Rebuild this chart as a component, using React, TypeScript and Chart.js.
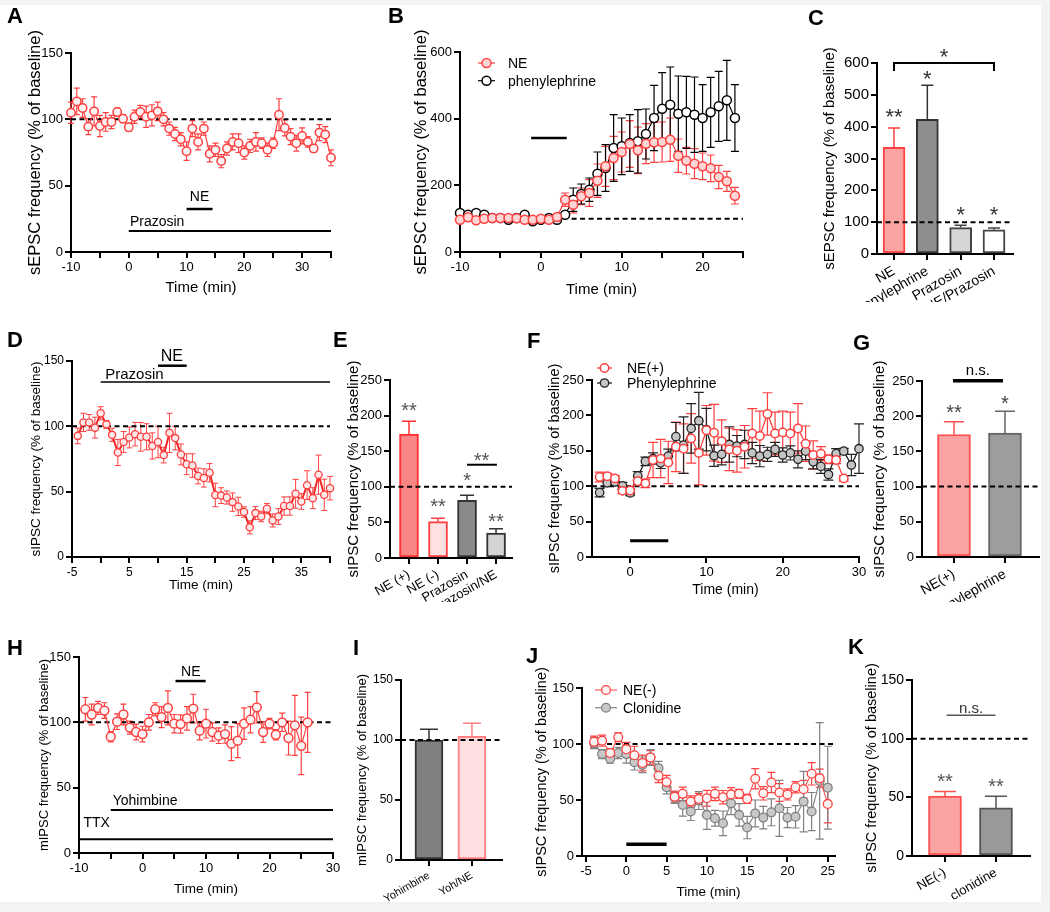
import React, { useEffect, useRef } from 'react';
import { Chart, registerables } from 'chart.js';

Chart.register(...registerables);

const FONT = "'Liberation Sans', Arial, Helvetica, sans-serif";
Chart.defaults.font.family = FONT;

// ======================= DATA =======================
// Panel A – sEPSC, prazosin then NE
const timeA = [-10,-9,-8,-7,-6,-5,-4,-3,-2,-1,0,1,2,3,4,5,6,7,8,9,10,11,12,13,14,15,16,17,18,19,20,21,22,23,24,25,26,27,28,29,30,31,32,33,34,35];
const valA = [105,113.5,108.5,94.5,106,95,98,98,105.5,100.5,94,102,105.5,102,103,106,100,93,89,85,76,93,83,93,74,77,68.5,78,83,82,75,80,83,82,77,82,103.5,93.5,87,82,87.5,83,78,90,88.5,71];
const semA = [8,10,7,6,11,8,7,5,3,3,3,5,5,8,8,7,5,5,5,5,7,6,6,5,6,5,5,5,6,7,5,5,7,4,5,4,12,6,6,6,6,4,3,6,6,6];
const ticksAX = [-10,-5,0,5,10,15,20,25,30,35];
const labelsAX = [-10,0,10,20,30];
const ticksAY = [0,50,100,150];
const drugsA = [
  { label: 'Prazosin', x0: 0, x1: 35, y: 15.8, tx: 0.2, ty: 19.6 },
  { label: 'NE', x0: 10, x1: 14.5, y: 32.4, tx: 12.25, ty: 38.4 },
];

// Panel B – NE vs phenylephrine
const timeB = [-10,-9,-8,-7,-6,-5,-4,-3,-2,-1,0,1,2,3,4,5,6,7,8,9,10,11,12,13,14,15,16,17,18,19,20,21,22,23,24];
const neB = [97,104,95,100,102,102,102,101,97,97,100,97,105,157,142,167,177,214,257,282,300,324,305,325,329,330,337,289,274,265,257,251,225,212,169];
const neSemB = [5,5,5,5,5,5,5,5,5,5,5,5,8,20,25,25,40,50,60,65,60,70,70,60,60,60,65,50,40,45,40,40,35,30,25];
const pheB = [117,112,117,112,102,102,97,102,112,92,97,102,97,112,157,174,187,235,252,312,317,327,332,354,402,430,442,415,419,412,402,419,437,455,402];
const pheSemB = [5,5,5,5,5,5,5,5,5,5,5,5,5,8,35,30,35,65,70,100,85,85,95,75,98,108,113,113,108,113,100,105,105,120,100];
const ticksBX = [-10,-5,0,5,10,15,20,25];
const labelsBX = [-10,0,10,20];
const ticksBY = [0,200,400,600];
const stimB = [{ x0: -1.2, x1: 3.2, y: 342 }];

// Panel C – summary sEPSC
const catC = ['NE','Phenylephrine','Prazosin','NE/Prazosin'];
const valC = [335,423,83,76];
const semC = [61,107,7,6];
const ticksCY = [0,100,200,300,400,500,600];
const starsC = [
  { x: 1, y: 444, text: '**' }, { x: 2, y: 562, text: '*' },
  { x: 3, y: 136, text: '*' }, { x: 4, y: 136, text: '*' }, { x: 2.5, y: 632, text: '*' },
];
const bracketC = [{ x0: 1, x1: 4, y: 600, drop: 25 }];

// Panel D – sIPSC, prazosin then NE
const timeD = [-4,-3,-2,-1,0,1,2,3,4,5,6,7,8,9,10,11,12,13,14,15,16,17,18,19,20,21,22,23,24,25,26,27,28,29,30,31,32,33,34,35,36,37,38,39,40];
const valD = [92.7,103,103,99,110,101.5,93.5,80,88,91.5,94,92,92,85,88,78,95,91,78.5,71,70,62,60.5,64.5,47.5,47,45.5,42,38.7,34.4,22.7,33.6,31,37,28,31,39,39,48.4,42.5,55,45,63,47.6,52.7];
const semD = [6,7,6,8,5,3,5,10,8,8,9,11,10,10,12,6,15,9,8,8,9,6,7,7,9,6,5,7,7,4,5,5,4,4,5,6,7,7,11,6,11,8,15,12,9];
const ticksDX = [-5,0,5,10,15,20,25,30,35,40];
const labelsDX = [-5,5,15,25,35];
const ticksDY = [0,50,100,150];
const drugsD = [
  { label: 'Prazosin', x0: 0, x1: 40, y: 134, tx: 0.8, ty: 136.4 },
  { label: 'NE', x0: 10, x1: 15, y: 146.4, tx: 12.4, ty: 149.8 },
];

// Panel E – summary sIPSC
const catE = ['NE (+)','NE (-)','Prazosin','Prazosin/NE'];
const valE = [174,51,81,35];
const semE = [18,5,7,6];
const ticksEY = [0,50,100,150,200,250];
const starsE = [
  { x: 1, y: 212, text: '**' }, { x: 2, y: 77, text: '**' }, { x: 3, y: 114, text: '*' },
  { x: 4, y: 56, text: '**' }, { x: 3.5, y: 142, text: '**' },
];
const barE = [{ x0: 3, x1: 4.03, y: 131 }];

// Panel F – NE(+) vs phenylephrine sIPSC
const timeF1 = [-4,-3,-2,-1,0,1,2,3,4,5,6,7,8,9,10,11,12,13,14,15,16,17,18,19,20,21,22,23,24,25,26,27,28];
const neF = [113,114,111,93.4,94,107,104,137,139,133.5,155.7,153,167.5,147,179,175.5,163.7,152,150,155.7,174.5,171,202,174.5,176,174.5,181.6,160,144,146,138,137,111];
const neSemF = [7,4,4,4,3,6,6,25,27,30,35,35,35,45,35,40,30,30,30,30,35,35,30,30,30,30,35,25,20,10,6,5,4];
const timeF2 = [-4,-3,-2,-1,0,1,2,3,4,5,6,7,8,9,10,11,12,13,14,15,16,17,18,19,20,21,22,23,24,25,26,27,28,29,30];
const pheF = [91,104.7,106,100.5,90.5,114.6,135,139,133,142.5,170,158,181.6,192.5,180,143,145,159,156.6,159,147,142.5,145,152,144,147,138,149.5,134.4,128,116.5,146,149.5,130,153];
const pheSemF = [6,5,5,5,4,6,6,8,8,10,20,40,35,40,30,15,15,25,15,20,15,15,10,10,10,10,12,12,10,10,8,7,4,15,35];
const ticksFX = [0,10,20,30];
const ticksFY = [0,50,100,150,200,250];
const stimF = [{ x0: 0, x1: 5, y: 23 }];

// Panel G – summary
const catG = ['NE(+)','phenylephrine'];
const valG = [174,176];
const semG = [18,31];
const ticksGY = [0,50,100,150,200,250];
const starsG = [{ x: 1, y: 210, text: '**' }, { x: 2, y: 223, text: '*' }];
const nsG = [{ x0: 0.98, x1: 1.96, y: 250.4, tx: 1.47, ty: 264, text: 'n.s.' }];

// Panel H – mIPSC with TTX + yohimbine
const timeH = [-9,-8,-7,-6,-5,-4,-3,-2,-1,0,1,2,3,4,5,6,7,8,9,10,11,12,13,14,15,16,17,18,19,20,21,22,23,24,25,26];
const valH = [110,106,111,109,89,100.5,106,96,92.6,91,100,110,104,111,99,98.7,103,110.5,93.6,99,92.6,89.8,91,83.7,86,99,102,111.5,92.6,99,90.5,100,88,97.7,82,100];
const semH = [9,8,5,6,4,6,8,5,6,6,6,5,8,13,7,7,9,11,7,11,7,6,7,13,13,12,10,12,8,4,4,7,13,23,22,23];
const ticksHX = [-10,-5,0,5,10,15,20,25,30];
const labelsHX = [-10,0,10,20,30];
const ticksHY = [0,50,100,150];
const drugsH = [
  { label: 'NE', x0: 5.2, x1: 9.95, y: 131.6, tx: 7.6, ty: 135.8 },
  { label: 'Yohimbine', x0: -5, x1: 30, y: 32.9, tx: -4.7, ty: 36.9 },
  { label: 'TTX', x0: -10, x1: 30, y: 10.5, tx: -9.3, ty: 20.1 },
];

// Panel I – summary mIPSC
const catI = ['Yohimbine','Yoh/NE'];
const valI = [100,103];
const semI = [9,11];
const ticksIY = [0,50,100,150];

// Panel J – NE(-) vs clonidine
const timeJ = [-4,-3,-2,-1,0,1,2,3,4,5,6,7,8,9,10,11,12,13,14,15,16,17,18,19,20,21,22,23,24,25];
const neJ = [102,103,92,106,95.4,90,83,88,71.6,66,53,55.5,48.6,51,51.6,55.5,52.5,55,55.5,51,69,56,65.6,56.7,55,61.4,59.6,73.4,69.5,46.5];
const neSemJ = [5,5,4,4,6,8,7,6,6,6,5,6,5,5,7,6,6,6,4,4,9,6,9,8,5,5,8,10,8,17];
const clJ = [100.8,91,86.8,92,91,83.8,81.4,88,78.4,61.4,52,45.6,39.7,49.5,36.7,33.7,29.2,47,36.7,25.4,38,34.3,39,42.6,34.3,35,48.6,39.7,67,61];
const clSemJ = [5,4,4,5,8,7,7,7,6,6,5,10,8,8,13,7,11,10,10,10,12,10,12,25,9,10,27,17,52,37];
const ticksJX = [-5,0,5,10,15,20,25];
const ticksJY = [0,50,100,150];
const stimJ = [{ x0: 0, x1: 5, y: 10.4 }];

// Panel K – summary
const catK = ['NE(-)','clonidine'];
const valK = [51,41];
const semK = [4,10];
const ticksKY = [0,50,100,150];
const starsK = [{ x: 1, y: 66.5, text: '**' }, { x: 2, y: 62, text: '**' }];
const nsK = [{ x0: 1.03, x1: 1.99, y: 120, tx: 1.51, ty: 125.5, text: 'n.s.' }];

// ======================= LAYOUT =======================
const GEO: any = {
  A: { cx: 0, cy: 0, cw: 345, ch: 300, L: 71, T: 53, R: 331, B: 252, yTitleX: 35, xTitleY: 288 },
  B: { cx: 405, cy: 0, cw: 345, ch: 300, L: 460, T: 52, R: 743, B: 252, yTitleX: 421, xTitleY: 290 },
  C: { cx: 815, cy: 0, cw: 226, ch: 302, L: 877, T: 63, R: 1013, B: 254, yTitleX: 830 },
  D: { cx: 0, cy: 300, cw: 345, ch: 300, L: 72, T: 361, R: 330, B: 557, yTitleX: 36, xTitleY: 585 },
  E: { cx: 340, cy: 300, cw: 185, ch: 302, L: 390, T: 380, R: 512, B: 558, yTitleX: 354 },
  F: { cx: 540, cy: 300, cw: 330, ch: 300, L: 592, T: 380, R: 859, B: 557, yTitleX: 555, xTitleY: 590 },
  G: { cx: 868, cy: 300, cw: 174, ch: 302, L: 922, T: 381, R: 1039, B: 557, yTitleX: 880 },
  H: { cx: 0, cy: 600, cw: 345, ch: 302, L: 79, T: 657, R: 333, B: 853, yTitleX: 44, xTitleY: 889 },
  I: { cx: 352, cy: 600, cw: 160, ch: 302, L: 401, T: 680, R: 502, B: 860, yTitleX: 362 },
  J: { cx: 532, cy: 600, cw: 310, ch: 302, L: 582, T: 688, R: 835, B: 856, yTitleX: 542, xTitleY: 892 },
  K: { cx: 860, cy: 600, cw: 182, ch: 302, L: 912, T: 680, R: 1030, B: 856, yTitleX: 872 },
};

const LETTERS = [
  { t: 'A', x: 7, y: 5 }, { t: 'B', x: 388, y: 5 }, { t: 'C', x: 808, y: 7 },
  { t: 'D', x: 7, y: 329 }, { t: 'E', x: 333, y: 329 }, { t: 'F', x: 527, y: 330 }, { t: 'G', x: 853, y: 332 },
  { t: 'H', x: 7, y: 637 }, { t: 'I', x: 353, y: 637 }, { t: 'J', x: 526, y: 645 }, { t: 'K', x: 848, y: 636 },
];

const RED = '#ff4040';
const PINKW = '#fff4f4';

// ======================= HELPERS =======================
const lab = (arr: number[]) => (v: number) => (arr.indexOf(v) >= 0 ? String(v) : '');

function mkScales(g: any, o: any) {
  const yLH = o.yTitleSize * 1.2;
  const xLH = (o.xTitleSize || 12) * 1.2;
  const fixPad = (s: any) => { s.paddingLeft = 0; s.paddingRight = 0; s.paddingTop = 0; s.paddingBottom = 0; };
  const grid = { display: true, offset: false, drawOnChartArea: false, drawTicks: true, tickLength: 6, color: '#000', lineWidth: 2 };
  return {
    x: {
      type: 'linear', min: o.xMin, max: o.xMax, offset: false,
      border: { display: true, color: '#000', width: 2 },
      grid,
      afterBuildTicks: (s: any) => { s.ticks = o.xTicks.map((v: number) => ({ value: v })); },
      ticks: {
        color: '#000', font: { family: FONT, size: o.xTickSize }, padding: o.xTickPad ?? 2, autoSkip: false,
        minRotation: o.rot || 0, maxRotation: o.rot || 0, callback: o.xLabel,
      },
      title: o.xTitle
        ? { display: true, text: o.xTitle, color: '#000', font: { family: FONT, size: o.xTitleSize }, padding: { top: 0, bottom: g.cy + g.ch - g.xTitleY - xLH / 2 } }
        : { display: false },
      afterFit: (s: any) => { s.height = g.cy + g.ch - g.B; fixPad(s); },
    },
    y: {
      type: 'linear', min: o.yMin, max: o.yMax,
      border: { display: true, color: '#000', width: 2 },
      grid,
      afterBuildTicks: (s: any) => { s.ticks = o.yTicks.map((v: number) => ({ value: v })); },
      ticks: { color: '#000', font: { family: FONT, size: o.yTickSize }, padding: 2, autoSkip: false, callback: (v: number) => String(v) },
      title: { display: true, text: o.yTitle, color: '#000', font: { family: FONT, size: o.yTitleSize }, padding: { top: g.yTitleX - g.cx - yLH / 2, bottom: 0 } },
      afterFit: (s: any) => { s.width = g.L - g.cx; fixPad(s); },
    },
  };
}

function mkOptions(g: any, scales: any) {
  return {
    responsive: false, animation: false, devicePixelRatio: 1, events: [],
    layout: { padding: { left: 0, top: g.T - g.cy, right: g.cx + g.cw - g.R, bottom: 0 } },
    plugins: { legend: { display: false }, tooltip: { enabled: false }, title: { display: false } },
    scales,
  };
}

function lineDS(label: string, xs: number[], ys: number[], errs: number[], st: any) {
  return {
    type: 'line', label,
    data: xs.map((x, i) => ({ x, y: ys[i] })),
    borderColor: st.line, borderWidth: st.lw, pointRadius: st.r, pointHoverRadius: st.r, pointBorderWidth: st.pbw,
    pointBackgroundColor: st.fill, pointBorderColor: st.edge, tension: 0, fill: false, clip: false,
    errors: errs, errColor: st.err, errBoth: true, cap: st.cap, errWidth: st.ew,
  };
}

function barDS(vals: number[], errs: number[], st: any) {
  return {
    type: 'bar', label: 'bars',
    data: vals.map((v, i) => ({ x: i + 1, y: v })),
    backgroundColor: st.fills, borderColor: st.edges, borderWidth: st.bw, borderSkipped: false, barThickness: st.thick,
    errors: errs, errColor: st.edges, errBoth: false, cap: st.cap, errWidth: st.ew, clip: false,
  };
}

const errPlugin = {
  id: 'errbars',
  beforeDatasetsDraw(chart: any) {
    const ctx = chart.ctx;
    chart.data.datasets.forEach((ds: any, di: number) => {
      if (!ds.errors) return;
      const meta = chart.getDatasetMeta(di);
      const ys = chart.scales[meta.yAxisID];
      ctx.save();
      meta.data.forEach((el: any, i: number) => {
        const raw = ds.data[i];
        const v = typeof raw === 'object' ? raw.y : raw;
        const e = ds.errors[i];
        const col = Array.isArray(ds.errColor) ? ds.errColor[i] : ds.errColor;
        const yTop = ys.getPixelForValue(v + e);
        const yBot = ds.errBoth ? ys.getPixelForValue(v - e) : ys.getPixelForValue(v);
        ctx.strokeStyle = col;
        ctx.lineWidth = ds.errWidth || 1.2;
        ctx.beginPath();
        ctx.moveTo(el.x, yTop); ctx.lineTo(el.x, yBot);
        ctx.moveTo(el.x - ds.cap, yTop); ctx.lineTo(el.x + ds.cap, yTop);
        if (ds.errBoth) { ctx.moveTo(el.x - ds.cap, yBot); ctx.lineTo(el.x + ds.cap, yBot); }
        ctx.stroke();
      });
      ctx.restore();
    });
  },
};

function makeAnnot(g: any, spec: any) {
  const drawRef = (chart: any) => {
    const { ctx, scales: { x, y } } = chart;
    (spec.ref || []).forEach((r: any) => {
      ctx.save();
      ctx.setLineDash([5, 3.5]);
      ctx.lineWidth = 2;
      ctx.strokeStyle = '#000';
      const py = y.getPixelForValue(r.y);
      ctx.beginPath();
      ctx.moveTo(x.getPixelForValue(r.x0 ?? x.min), py);
      ctx.lineTo(x.getPixelForValue(r.x1 ?? x.max), py);
      ctx.stroke();
      ctx.restore();
    });
  };
  return {
    id: 'annot',
    beforeDatasetsDraw(chart: any) { if (!spec.refTop) drawRef(chart); },
    afterDatasetsDraw(chart: any) {
      if (spec.refTop) drawRef(chart);
      const { ctx, scales: { x, y } } = chart;
      (spec.lines || []).forEach((l: any) => {
        ctx.save();
        ctx.strokeStyle = l.color || '#000';
        ctx.lineWidth = l.w || 2;
        const py = y.getPixelForValue(l.y);
        ctx.beginPath();
        ctx.moveTo(x.getPixelForValue(l.x0), py);
        ctx.lineTo(x.getPixelForValue(l.x1), py);
        ctx.stroke();
        ctx.restore();
      });
      (spec.brackets || []).forEach((b: any) => {
        ctx.save();
        ctx.strokeStyle = b.color || '#000';
        ctx.lineWidth = b.w || 2;
        const py = y.getPixelForValue(b.y);
        const pd = y.getPixelForValue(b.y - b.drop);
        const a = x.getPixelForValue(b.x0), c = x.getPixelForValue(b.x1);
        ctx.beginPath();
        ctx.moveTo(a, pd); ctx.lineTo(a, py); ctx.lineTo(c, py); ctx.lineTo(c, pd);
        ctx.stroke();
        ctx.restore();
      });
      (spec.texts || []).forEach((t: any) => {
        ctx.save();
        ctx.font = `${t.size}px ${FONT}`;
        ctx.fillStyle = t.color || '#000';
        ctx.textAlign = t.align || 'center';
        ctx.textBaseline = 'alphabetic';
        const px = x.getPixelForValue(t.x);
        let py = y.getPixelForValue(t.y);
        if (!t.base) {
          const m = ctx.measureText(t.text);
          py = py + (m.actualBoundingBoxAscent - m.actualBoundingBoxDescent) / 2;
        }
        ctx.fillText(t.text, px, py);
        ctx.restore();
      });
      if (spec.legend) {
        const L = spec.legend;
        chart.data.datasets.forEach((ds: any, i: number) => {
          const yy = L.y - g.cy + i * L.dy;
          const x0 = L.x - g.cx;
          ctx.save();
          ctx.strokeStyle = ds.borderColor;
          ctx.lineWidth = ds.borderWidth;
          ctx.beginPath(); ctx.moveTo(x0, yy); ctx.lineTo(x0 + L.len, yy); ctx.stroke();
          ctx.beginPath();
          ctx.arc(x0 + L.len / 2, yy, ds.pointRadius, 0, Math.PI * 2);
          ctx.fillStyle = ds.pointBackgroundColor; ctx.fill();
          ctx.lineWidth = ds.pointBorderWidth; ctx.strokeStyle = ds.pointBorderColor; ctx.stroke();
          ctx.font = `${L.size}px ${FONT}`;
          ctx.fillStyle = '#000';
          ctx.textAlign = 'left';
          ctx.textBaseline = 'middle';
          ctx.fillText(ds.label, x0 + L.len + L.gap, yy + 1);
          ctx.restore();
        });
      }
    },
  };
}

const drugSpec = (drugs: any[], aligns: string[], size: number, widths: number[]) => ({
  lines: drugs.map((d, i) => ({ x0: d.x0, x1: d.x1, y: d.y, w: widths[i] })),
  texts: drugs.map((d, i) => ({ x: d.tx, y: d.ty, text: d.label, size, align: aligns[i], base: true })),
});

// ======================= PANELS =======================
function makeA() {
  const g = GEO.A;
  const d = drugSpec(drugsA, ['left', 'center'], 14, [2, 2.5]);
  return {
    type: 'line',
    data: { datasets: [lineDS('NE', timeA, valA, semA, { line: RED, lw: 1.2, r: 4.2, pbw: 1.5, fill: PINKW, edge: RED, err: RED, cap: 3, ew: 1.2 })] },
    options: mkOptions(g, mkScales(g, {
      xMin: -10, xMax: 35, xTicks: ticksAX, xLabel: lab(labelsAX), xTickSize: 13, xTitle: 'Time (min)', xTitleSize: 15,
      yMin: 0, yMax: 150, yTicks: ticksAY, yTickSize: 13, yTitle: 'sEPSC frequency (% of baseline)', yTitleSize: 16.5,
    })),
    plugins: [errPlugin, makeAnnot(g, { ref: [{ y: 100 }], ...d })],
  };
}

function makeB() {
  const g = GEO.B;
  return {
    type: 'line',
    data: { datasets: [
      lineDS('NE', timeB, neB, neSemB, { line: RED, lw: 1.2, r: 4.5, pbw: 1.5, fill: '#ffd6d6', edge: RED, err: RED, cap: 4, ew: 1.2 }),
      lineDS('phenylephrine', timeB, pheB, pheSemB, { line: '#000', lw: 1.2, r: 4.5, pbw: 1.5, fill: '#fff', edge: '#000', err: '#000', cap: 4, ew: 1.2 }),
    ] },
    options: mkOptions(g, mkScales(g, {
      xMin: -10, xMax: 25, xTicks: ticksBX, xLabel: lab(labelsBX), xTickSize: 13, xTitle: 'Time (min)', xTitleSize: 15,
      yMin: 0, yMax: 600, yTicks: ticksBY, yTickSize: 13, yTitle: 'sEPSC frequency (% of baseline)', yTitleSize: 16.5,
    })),
    plugins: [errPlugin, makeAnnot(g, {
      ref: [{ y: 100, x0: 3.8 }],
      lines: stimB.map((s) => ({ ...s, w: 2.5 })),
      legend: { x: 478, y: 63, dy: 17.7, len: 17, gap: 13, size: 14 },
    })],
  };
}

function barChart(g: any, cats: string[], vals: number[], errs: number[], st: any, o: any, annot: any) {
  return {
    type: 'bar',
    data: { datasets: [barDS(vals, errs, st)] },
    options: mkOptions(g, mkScales(g, {
      xMin: o.xMin, xMax: o.xMax, xTicks: cats.map((_, i) => i + 1), xLabel: (v: number) => cats[v - 1] || '',
      xTickSize: o.xTickSize, rot: 30, xTickPad: 3,
      yMin: 0, yMax: o.yMax, yTicks: o.yTicks, yTickSize: o.yTickSize, yTitle: o.yTitle, yTitleSize: o.yTitleSize,
    })),
    plugins: [errPlugin, makeAnnot(g, { refTop: true, ref: [{ y: 100 }], ...annot })],
  };
}

function makeC() {
  const g = GEO.C;
  return barChart(g, catC, valC, semC,
    { fills: ['#f9a3a3', '#8e8e8e', '#d6d6d6', '#ffffff'], edges: ['#ff4040', '#333333', '#444444', '#444444'], bw: 2, thick: 22, cap: 6, ew: 1.5 },
    { xMin: 0.49, xMax: 4.57, xTickSize: 14, yMax: 600, yTicks: ticksCY, yTickSize: 15, yTitle: 'sEPSC frequency (% of baseline)', yTitleSize: 15 },
    {
      brackets: bracketC.map((b) => ({ ...b, w: 2 })),
      texts: starsC.map((s) => ({ ...s, size: 22, color: '#333' })),
    });
}

function makeD() {
  const g = GEO.D;
  const d = drugSpec(drugsD, ['left', 'center'], 15, [1.5, 2.5]);
  d.texts[1].size = 16;
  return {
    type: 'line',
    data: { datasets: [lineDS('NE', timeD, valD, semD, { line: '#f02828', lw: 2, r: 3.6, pbw: 1.3, fill: '#ffe8e8', edge: RED, err: RED, cap: 3, ew: 1 })] },
    options: mkOptions(g, mkScales(g, {
      xMin: -5, xMax: 40, xTicks: ticksDX, xLabel: lab(labelsDX), xTickSize: 12, xTitle: 'Time (min)', xTitleSize: 13.5,
      yMin: 0, yMax: 150, yTicks: ticksDY, yTickSize: 12, yTitle: 'sIPSC frequency (% of baseline)', yTitleSize: 13.5,
    })),
    plugins: [errPlugin, makeAnnot(g, { ref: [{ y: 100 }], ...d })],
  };
}

function makeE() {
  const g = GEO.E;
  return barChart(g, catE, valE, semE,
    { fills: ['#f98585', '#fde0e0', '#8a8a8a', '#d4d4d4'], edges: ['#ff3030', '#ff4040', '#333333', '#333333'], bw: 2, thick: 19, cap: 7, ew: 1.5 },
    { xMin: 0.345, xMax: 4.55, xTickSize: 13, yMax: 250, yTicks: ticksEY, yTickSize: 13, yTitle: 'sIPSC frequency (% of baseline)', yTitleSize: 15 },
    {
      lines: barE.map((b) => ({ ...b, w: 2 })),
      texts: starsE.map((s) => ({ ...s, size: 20, color: '#555' })),
    });
}

function makeF() {
  const g = GEO.F;
  return {
    type: 'line',
    data: { datasets: [
      lineDS('NE(+)', timeF1, neF, neSemF, { line: RED, lw: 1.3, r: 4.2, pbw: 1.5, fill: '#ffffff', edge: RED, err: RED, cap: 5, ew: 1.2 }),
      lineDS('Phenylephrine', timeF2, pheF, pheSemF, { line: '#222', lw: 1.3, r: 4.2, pbw: 1.3, fill: '#c4c4c4', edge: '#222', err: '#222', cap: 5, ew: 1.2 }),
    ] },
    options: mkOptions(g, mkScales(g, {
      xMin: -5, xMax: 30, xTicks: ticksFX, xLabel: (v: number) => String(v), xTickSize: 13, xTitle: 'Time (min)', xTitleSize: 14,
      yMin: 0, yMax: 250, yTicks: ticksFY, yTickSize: 13, yTitle: 'sIPSC frequency (% of baseline)', yTitleSize: 14.5,
    })),
    plugins: [errPlugin, makeAnnot(g, {
      ref: [{ y: 100 }],
      lines: stimF.map((s) => ({ ...s, w: 3 })),
      legend: { x: 597, y: 368, dy: 15, len: 15, gap: 15, size: 14 },
    })],
  };
}

function makeG() {
  const g = GEO.G;
  return barChart(g, catG, valG, semG,
    { fills: ['#f9a3a3', '#9d9d9d'], edges: ['#ff5050', '#666666'], bw: 2, thick: 33, cap: 10, ew: 1.5 },
    { xMin: 0.373, xMax: 2.667, xTickSize: 14, yMax: 250, yTicks: ticksGY, yTickSize: 13, yTitle: 'sIPSC frequency (% of baseline)', yTitleSize: 15 },
    {
      lines: nsG.map((n) => ({ x0: n.x0, x1: n.x1, y: n.y, w: 3.5 })),
      texts: [
        ...nsG.map((n) => ({ x: n.tx, y: n.ty, text: n.text, size: 15, color: '#000' })),
        ...starsG.map((s) => ({ ...s, size: 20, color: '#444' })),
      ],
    });
}

function makeH() {
  const g = GEO.H;
  const d = drugSpec(drugsH, ['center', 'left', 'left'], 14, [2.5, 2, 2]);
  return {
    type: 'line',
    data: { datasets: [lineDS('NE', timeH, valH, semH, { line: RED, lw: 1.2, r: 4.4, pbw: 1.5, fill: PINKW, edge: RED, err: RED, cap: 3, ew: 1.2 })] },
    options: mkOptions(g, mkScales(g, {
      xMin: -10, xMax: 30, xTicks: ticksHX, xLabel: lab(labelsHX), xTickSize: 13, xTitle: 'Time (min)', xTitleSize: 13.5,
      yMin: 0, yMax: 150, yTicks: ticksHY, yTickSize: 13, yTitle: 'mIPSC frequency (% of baseline)', yTitleSize: 13,
    })),
    plugins: [errPlugin, makeAnnot(g, { ref: [{ y: 100 }], ...d })],
  };
}

function makeI() {
  const g = GEO.I;
  return barChart(g, catI, valI, semI,
    { fills: ['#808080', '#ffdfdf'], edges: ['#333333', '#ff8080'], bw: 2, thick: 28, cap: 9, ew: 1.5 },
    { xMin: 0.349, xMax: 2.7, xTickSize: 11, yMax: 150, yTicks: ticksIY, yTickSize: 12, yTitle: 'mIPSC frequency (% of baseline)', yTitleSize: 13 },
    {});
}

function makeJ() {
  const g = GEO.J;
  return {
    type: 'line',
    data: { datasets: [
      lineDS('NE(-)', timeJ, neJ, neSemJ, { line: RED, lw: 1, r: 4.4, pbw: 1.3, fill: PINKW, edge: RED, err: RED, cap: 4, ew: 1.2 }),
      lineDS('Clonidine', timeJ, clJ, clSemJ, { line: '#808080', lw: 1.2, r: 4.4, pbw: 1.3, fill: '#c8c8c8', edge: '#808080', err: '#808080', cap: 4, ew: 1.2 }),
    ] },
    options: mkOptions(g, mkScales(g, {
      xMin: -5.5, xMax: 25.9, xTicks: ticksJX, xLabel: (v: number) => String(v), xTickSize: 13, xTitle: 'Time (min)', xTitleSize: 13.5,
      yMin: 0, yMax: 150, yTicks: ticksJY, yTickSize: 13, yTitle: 'sIPSC frequency (% of baseline)', yTitleSize: 14.5,
    })),
    plugins: [errPlugin, makeAnnot(g, {
      ref: [{ y: 100, x0: -4.5 }],
      lines: stimJ.map((s) => ({ ...s, w: 3.5 })),
      legend: { x: 595, y: 690, dy: 17.7, len: 22, gap: 6, size: 14 },
    })],
  };
}

function makeK() {
  const g = GEO.K;
  return barChart(g, catK, valK, semK,
    { fills: ['#f9a3a3', '#999999'], edges: ['#ff5050', '#555555'], bw: 2, thick: 33, cap: 11, ew: 1.5 },
    { xMin: 0.353, xMax: 2.667, xTickSize: 13, yMax: 150, yTicks: ticksKY, yTickSize: 14, yTitle: 'sIPSC frequency (% of baseline)', yTitleSize: 14.5 },
    {
      lines: nsK.map((n) => ({ x0: n.x0, x1: n.x1, y: n.y, w: 1.5, color: '#555' })),
      texts: [
        ...nsK.map((n) => ({ x: n.tx, y: n.ty, text: n.text, size: 15, color: '#333' })),
        ...starsK.map((s) => ({ ...s, size: 20, color: '#555' })),
      ],
    });
}

// ======================= COMPONENTS =======================
function ChartCanvas({ g, make }: { g: any; make: () => any }) {
  const ref = useRef<HTMLCanvasElement | null>(null);
  useEffect(() => {
    const chart = new Chart(ref.current as HTMLCanvasElement, make());
    return () => chart.destroy();
  }, []);
  return (
    <canvas
      ref={ref}
      width={g.cw}
      height={g.ch}
      style={{ position: 'absolute', left: g.cx, top: g.cy, width: g.cw, height: g.ch }}
    />
  );
}

export default function App() {
  const panels: [string, () => any][] = [
    ['A', makeA], ['B', makeB], ['C', makeC], ['D', makeD], ['E', makeE], ['F', makeF],
    ['G', makeG], ['H', makeH], ['I', makeI], ['J', makeJ], ['K', makeK],
  ];
  return (
    <div style={{ position: 'absolute', left: 0, top: 0, width: 1050, height: 912, background: '#f2f3f5', overflow: 'hidden' }}>
      <div style={{ position: 'absolute', left: 0, top: 5, width: 1041, height: 897, background: '#ffffff' }} />
      {panels.map(([k, fn]) => (
        <ChartCanvas key={k} g={GEO[k]} make={fn} />
      ))}
      {LETTERS.map((l) => (
        <div
          key={l.t}
          style={{ position: 'absolute', left: l.x, top: l.y, font: `bold 22px ${FONT}`, lineHeight: '22px', color: '#000' }}
        >
          {l.t}
        </div>
      ))}
    </div>
  );
}
